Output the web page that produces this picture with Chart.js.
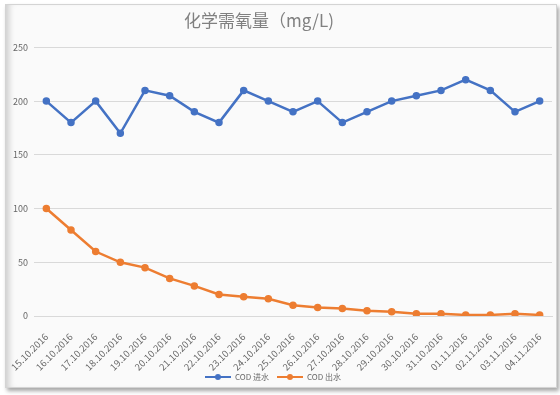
<!DOCTYPE html>
<html>
<head>
    <meta charset="utf-8">
    <title>COD</title>
    <style>
        body { margin: 0; background: #ffffff; }
        #box {
            position: absolute; left: 5px; top: 4px; width: 550px; height: 382px;
            background: #fafafa;
            border: 1px solid #d4d4d4;
            box-shadow: inset 7px 0 6px -4px rgba(0,0,0,0.18), 2px 3px 4px rgba(0,0,0,0.35);
        }
        canvas { position: absolute; left: 0; top: 0; }
    </style>
</head>
<body>
    <div id="box"></div>
    <canvas id="c" width="560" height="395"></canvas>

    <script src="https://cdn.jsdelivr.net/npm/chart.js@4.4.0/dist/chart.umd.min.js"></script>
    <script>
        // dates along the x axis
        var dates = ['15.10.2016','16.10.2016','17.10.2016','18.10.2016','19.10.2016','20.10.2016','21.10.2016',
                     '22.10.2016','23.10.2016','24.10.2016','25.10.2016','26.10.2016','27.10.2016','28.10.2016',
                     '29.10.2016','30.10.2016','31.10.2016','01.11.2016','02.11.2016','03.11.2016','04.11.2016'];
        // COD inlet / outlet values
        var codIn  = [200,180,200,170,210,205,190,180,210,200,190,200,180,190,200,205,210,220,210,190,200];
        var codOut = [100,80,60,50,45,35,28,20,18,16,10,8,7,5,4,2,2,1,1,2,1];
        var yTicks = [0,50,100,150,200,250];

        var blue = '#4472c4';
        var orange = '#ed7d31';
        var grey = '#666666';

        // little "line with dot" swatch for the legend, like Excel draws it
        function swatch(col) {
            var c = document.createElement('canvas');
            c.width = 26; c.height = 8;
            var g = c.getContext('2d');
            g.strokeStyle = col; g.lineWidth = 2;
            g.beginPath(); g.moveTo(0, 4); g.lineTo(26, 4); g.stroke();
            g.fillStyle = col;
            g.beginPath(); g.arc(13, 4, 3, 0, Math.PI * 2); g.fill();
            return c;
        }
        var swatches = [swatch(blue), swatch(orange)];

        // don't clip tick labels to the axis box
        function noClip(axis) { axis._computeLabelArea = function() { return undefined; }; }

        // excel puts title and legend a bit left of centre
        var shiftBlocks = {
            id: 'shiftBlocks',
            afterLayout: function(chart) {
                chart.titleBlock.left -= 46;
                chart.legend.left -= 18;
            }
        };

        Chart.defaults.font.family = '"Noto Sans CJK SC", "Liberation Sans", sans-serif';

        new Chart(document.getElementById('c'), {
            type: 'line',
            data: {
                labels: dates,
                datasets: [
                    { label: 'COD 进水', data: codIn, borderColor: blue, backgroundColor: blue,
                      borderWidth: 2.5, pointRadius: 2.5, pointHoverRadius: 3 },
                    { label: 'COD 出水', data: codOut, borderColor: orange, backgroundColor: orange,
                      borderWidth: 2.5, pointRadius: 2.5, pointHoverRadius: 3 }
                ]
            },
            plugins: [shiftBlocks],
            options: {
                responsive: false,
                animation: false,
                layout: { padding: { left: 12, right: 8, top: 10, bottom: 4 } },
                plugins: {
                    title: {
                        display: true,
                        text: '化学需氧量（mg/L)',
                        color: '#808080',
                        font: { size: 17, weight: 'normal' },
                        padding: { top: 0, bottom: 17 }
                    },
                    legend: {
                        position: 'bottom',
                        labels: {
                            color: grey, font: { size: 8 }, padding: 8,
                            usePointStyle: true, pointStyleWidth: 26,
                            generateLabels: function(chart) {
                                var items = Chart.defaults.plugins.legend.labels.generateLabels(chart);
                                items.forEach(function(it, i) { it.pointStyle = swatches[i]; });
                                return items;
                            }
                        }
                    },
                    tooltip: { enabled: false }
                },
                scales: {
                    x: {
                        offset: true,
                        grid: { display: false },
                        border: { color: '#d9d9d9' },
                        ticks: { color: grey, font: { size: 9.5 }, maxRotation: 45, minRotation: 45, autoSkip: false, padding: 7 },
                        afterFit: function(axis) { axis.height = 49; axis.paddingLeft = 0; axis.paddingRight = 0; noClip(axis); }
                    },
                    y: {
                        min: 0, max: 250,
                        afterBuildTicks: function(axis) { axis.ticks = yTicks.map(function(v){ return { value: v }; }); },
                        grid: { color: '#d9d9d9', drawTicks: false },
                        border: { display: false },
                        ticks: { color: grey, font: { size: 9 }, padding: 6 },
                        afterFit: function(axis) { axis.width = 22; noClip(axis); }
                    }
                }
            }
        });
    </script>
</body>
</html>
